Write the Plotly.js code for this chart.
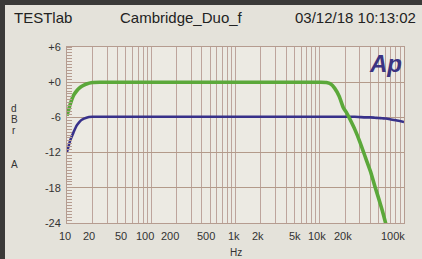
<!DOCTYPE html>
<html>
<head>
<meta charset="utf-8">
<script src="https://cdn.plot.ly/plotly-3.0.1.min.js"></script>
<style>
html,body{margin:0;padding:0;background:#e4e2da;}
#chart{width:422px;height:259px;}
</style>
</head>
<body>
<div id="chart"></div>
<script>
// Data
var freqHz = [10, 11, 12, 13, 14, 15, 17, 20, 25, 30, 50, 100, 200, 500, 1000, 2000, 5000, 10000, 12000, 13500, 15000, 17000, 19000, 21000, 23000, 26000, 30000, 35000, 40000, 45000, 50000, 55000, 61000, 70000, 80000, 100000];
var greenDb = [-5.7, -3.6, -2.2, -1.5, -1.0, -0.7, -0.3, -0.05, 0, 0, 0, 0, 0, 0, 0, 0, 0, 0, -0.05, -0.3, -1.0, -2.4, -4.3, -5.3, -6.4, -8.0, -10.2, -12.9, -15.2, -17.7, -19.8, -21.8, -24.2, null, null, null];
var blueDb = [-11.9, -9.8, -8.5, -7.4, -6.8, -6.4, -6.05, -5.9, -5.9, -5.9, -5.9, -5.9, -5.9, -5.9, -5.9, -5.9, -5.9, -5.9, -5.9, -5.9, -5.9, -5.9, -5.9, -5.9, -5.9, -5.9, -5.95, -6.0, -6.0, -6.05, -6.1, -6.15, -6.2, -6.35, -6.5, -6.8];

var yTickVals = [6, 0, -6, -12, -18, -24];
var yTickText = ['+6', '+0', '-6', '-12', '-18', '-24'];
var xTickVals = [10, 20, 50, 100, 200, 500, 1000, 2000, 5000, 10000, 20000, 100000];
var xTickText = ['10', '20', '50', '100', '200', '500', '1k', '2k', '5k', '10k', '20k', '100k'];
var xTickShift = [-2, -3, -5, -6, -7, -4, -2, -3, 1, -3, -2, -11];

var headerLeft = 'TESTlab';
var headerMid = 'Cambridge_Duo_f';
var headerRight = '03/12/18 10:13:02';
var yTitleLetters = ['d', 'B', 'r', 'A'];
var yTitleLetterPx = [108, 119, 130, 164];

var plotLeft = 67, plotRight = 404, plotTop = 47, plotBottom = 223;
function paperY(py){ return (plotBottom - py) / (plotBottom - plotTop); }
function paperX(px){ return (px - plotLeft) / (plotRight - plotLeft); }

var traces = [
  {x: freqHz, y: blueDb, type: 'scatter', mode: 'lines', line: {color: '#38318a', width: 2.6, shape: 'spline', smoothing: 0.6}, hoverinfo: 'skip'},
  {x: freqHz, y: greenDb, type: 'scatter', mode: 'lines', line: {color: '#5ba83a', width: 3.6, shape: 'spline', smoothing: 0.6}, hoverinfo: 'skip', connectgaps: false}
];

var font = 'Liberation Sans, Arial, sans-serif';
var annotations = [];
for (var i = 0; i < xTickVals.length; i++) {
  annotations.push({x: Math.log10(xTickVals[i]), xref: 'x', y: 0, yref: 'paper', yanchor: 'top', yshift: -5, xshift: xTickShift[i],
    text: xTickText[i], showarrow: false, font: {family: font, size: 11, color: '#333'}});
}
annotations.push({x: 0.5, xref: 'paper', y: paperY(252), yref: 'paper', yanchor: 'middle', text: 'Hz', showarrow: false, font: {family: font, size: 10, color: '#333'}});
for (var j = 0; j < yTitleLetters.length; j++) {
  annotations.push({x: paperX(14), xref: 'paper', xanchor: 'center', y: paperY(yTitleLetterPx[j]), yref: 'paper', yanchor: 'middle', text: yTitleLetters[j], showarrow: false, font: {family: font, size: 10, color: '#333'}});
}
annotations.push({x: paperX(12), xref: 'paper', xanchor: 'left', y: paperY(18), yref: 'paper', yanchor: 'middle', text: headerLeft, showarrow: false, font: {family: font, size: 15, color: '#222'}});
annotations.push({x: paperX(181), xref: 'paper', xanchor: 'center', y: paperY(18), yref: 'paper', yanchor: 'middle', text: headerMid, showarrow: false, font: {family: font, size: 15, color: '#222'}});
annotations.push({x: paperX(418), xref: 'paper', xanchor: 'right', y: paperY(18), yref: 'paper', yanchor: 'middle', text: headerRight, showarrow: false, font: {family: font, size: 15, color: '#222'}});
annotations.push({x: paperX(385), xref: 'paper', xanchor: 'center', y: paperY(63), yref: 'paper', yanchor: 'middle', text: '<b><i>Ap</i></b>', showarrow: false, font: {family: font, size: 24, color: '#3b3482'}});

var layout = {
  width: 422, height: 259,
  margin: {l: plotLeft, r: 422 - plotRight, t: plotTop, b: 259 - plotBottom},
  paper_bgcolor: '#e4e2da',
  plot_bgcolor: '#eceae3',
  showlegend: false,
  xaxis: {type: 'log', range: [1, 5], dtick: 'D1', showticklabels: false, ticks: '',
    showgrid: true, gridcolor: '#bda49c', gridwidth: 1, zeroline: false,
    showline: true, linecolor: '#b59c90', linewidth: 1, mirror: true, fixedrange: true},
  yaxis: {range: [-24, 6], tickvals: yTickVals, ticktext: yTickText, ticks: '',
    tickfont: {family: font, size: 11, color: '#333'}, ticklabelstandoff: 3,
    showgrid: true, gridcolor: '#b39a8a', gridwidth: 1, zeroline: false,
    showline: true, linecolor: '#b59c90', linewidth: 1, mirror: true, fixedrange: true,
    minor: {dtick: 0.5, ticks: 'inside', ticklen: 5, tickcolor: '#b59c90', showgrid: false}},
  annotations: annotations,
  shapes: [
    {type: 'rect', xref: 'paper', yref: 'paper', x0: paperX(0), x1: paperX(422), y0: paperY(0), y1: paperY(5), fillcolor: '#3a3a38', line: {width: 0}, layer: 'above'},
    {type: 'rect', xref: 'paper', yref: 'paper', x0: paperX(0), x1: paperX(5), y0: paperY(0), y1: paperY(259), fillcolor: '#3a3a38', line: {width: 0}, layer: 'above'}
  ]
};

Plotly.newPlot('chart', traces, layout, {staticPlot: true, displayModeBar: false});
</script>
</body>
</html>
